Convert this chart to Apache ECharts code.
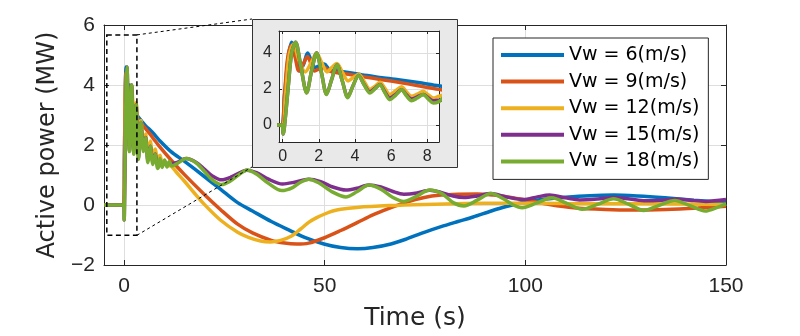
<!DOCTYPE html>
<html><head><meta charset="utf-8">
<script src="https://cdn.jsdelivr.net/npm/echarts@6/dist/echarts.min.js"></script>
<style>html,body{margin:0;padding:0;background:#fff}#c{width:800px;height:336px}</style>
</head><body><div id="c"></div>
<script>
const seriesNames = ['Vw = 6(m/s)', 'Vw = 9(m/s)', 'Vw = 12(m/s)', 'Vw = 15(m/s)', 'Vw = 18(m/s)'];
const seriesColors = ['#0072BD', '#D95319', '#EDB120', '#7E2F8E', '#77AC30'];

const xTicks = [0, 50, 100, 150];
const yTicks = [-2, 0, 2, 4, 6];
const insetXTicks = [0, 2, 4, 6, 8];
const insetYTicks = [0, 2, 4];

const time_vw6 = [-5, -0.1, 0.1, 0.3, 0.5, 0.72, 0.96, 1.17, 1.38, 1.58, 1.79, 2.05, 2.3, 2.6, 3.26, 4.37, 5.5, 6.5, 7.5, 8.65, 11.7, 15, 20, 25, 28.3, 32, 36.7, 41.5, 45, 49.8, 54, 58.2, 62, 66.5, 70, 74.8, 79, 83.2, 87, 91.5, 95, 100, 105, 110, 116, 122, 128, 134.8, 142, 150];
const power_vw6 = [0, 0, 1.6, 3.7, 4.6, 4.1, 3.0, 3.4, 4.0, 3.6, 3.2, 3.3, 3.39, 3.08, 2.98, 2.8, 2.62, 2.5, 2.36, 2.18, 1.78, 1.46, 0.95, 0.42, 0.08, -0.2, -0.55, -0.86, -1.08, -1.3, -1.42, -1.46, -1.42, -1.3, -1.15, -0.91, -0.72, -0.55, -0.4, -0.2, -0.06, 0.1, 0.2, 0.26, 0.31, 0.33, 0.3, 0.24, 0.16, 0.08];

const time_vw9 = [-5, -0.1, 0.1, 0.25, 0.45, 0.68, 0.9, 1.15, 1.38, 1.57, 1.75, 2.0, 2.3, 2.6, 3.26, 4.37, 5.5, 6.5, 7.5, 8.65, 11.7, 15, 20, 24, 28.3, 32, 36.7, 40, 43, 46, 49.8, 54, 58.2, 62, 66.5, 70, 74.8, 79, 83.2, 88, 92, 96, 100, 106, 112, 120, 126.5, 135, 143, 150];
const power_vw9 = [0, 0, 1.6, 3.5, 4.4, 3.8, 3.0, 3.4, 3.8, 3.4, 3.0, 3.1, 3.2, 3.0, 2.87, 2.7, 2.52, 2.36, 2.18, 1.98, 1.5, 1.02, 0.35, -0.15, -0.64, -0.93, -1.18, -1.27, -1.3, -1.27, -1.1, -0.85, -0.58, -0.33, -0.09, 0.08, 0.25, 0.33, 0.36, 0.37, 0.33, 0.26, 0.17, 0.02, -0.09, -0.15, -0.17, -0.15, -0.1, -0.04];

const time_vw12 = [-5, -0.05, 0.15, 0.35, 0.6, 0.9, 1.25, 1.6, 1.88, 2.15, 2.45, 2.72, 3.0, 3.3, 3.62, 3.92, 4.22, 4.52, 4.83, 5.1, 5.38, 5.65, 5.93, 6.25, 6.58, 6.85, 7.13, 7.45, 7.78, 8.05, 8.33, 8.65, 8.95, 9.5, 10.1, 10.7, 11.7, 13, 15, 17.5, 20, 24, 28.3, 31, 34, 36.5, 39, 41.5, 44, 46, 48, 50, 52, 54, 58, 66, 75, 85, 95, 110, 130, 150];
const power_vw12 = [0, 0, 1.5, 3.8, 4.5, 3.6, 2.95, 3.5, 4.0, 3.5, 2.95, 3.2, 3.42, 2.95, 2.45, 2.65, 2.82, 2.4, 1.98, 2.15, 2.37, 2.05, 1.7, 1.9, 2.13, 1.85, 1.6, 1.72, 1.87, 1.68, 1.5, 1.6, 1.66, 1.4, 1.47, 1.32, 1.3, 1.1, 0.8, 0.4, 0.02, -0.5, -0.91, -1.08, -1.2, -1.23, -1.18, -1.05, -0.8, -0.58, -0.42, -0.3, -0.2, -0.14, -0.08, -0.02, 0.02, 0.05, 0.06, 0.05, 0.04, 0.02];

const time_vw15 = [-5, -0.05, 0.03, 0.15, 0.3, 0.5, 0.72, 1.0, 1.33, 1.6, 1.88, 2.15, 2.43, 2.72, 3.0, 3.3, 3.6, 3.9, 4.2, 4.5, 4.83, 5.1, 5.38, 5.65, 5.93, 6.25, 6.58, 6.85, 7.13, 7.45, 7.78, 8.05, 8.33, 8.65, 9.5, 10.7, 11.9, 13.2, 15.5, 18, 20, 22, 24.3, 27, 30.6, 33, 36, 39.5, 42.5, 46, 49, 52, 55.3, 58, 61, 64, 67, 69.7, 73, 76.2, 79, 82, 84.7, 88, 91.4, 95, 99.5, 103, 106, 110, 113.5, 118, 122, 126, 130, 134, 137.5, 141, 145, 150];
const power_vw15 = [0, 0, -0.5, 0.4, 2.0, 4.0, 4.6, 3.3, 1.8, 3.0, 4.0, 2.9, 1.72, 2.55, 3.35, 2.45, 1.56, 2.2, 2.75, 2.27, 1.84, 2.03, 2.25, 1.85, 1.5, 1.7, 1.96, 1.68, 1.45, 1.56, 1.7, 1.52, 1.35, 1.38, 1.38, 1.38, 1.38, 1.42, 1.55, 1.42, 1.2, 0.97, 0.84, 0.95, 1.16, 1.08, 0.86, 0.7, 0.76, 0.86, 0.78, 0.6, 0.5, 0.56, 0.67, 0.6, 0.45, 0.36, 0.4, 0.49, 0.42, 0.3, 0.25, 0.3, 0.38, 0.28, 0.18, 0.27, 0.33, 0.24, 0.17, 0.2, 0.25, 0.2, 0.14, 0.16, 0.2, 0.16, 0.12, 0.18];

const time_vw18 = [-5, -0.05, 0.03, 0.15, 0.3, 0.5, 0.72, 1.0, 1.33, 1.6, 1.88, 2.15, 2.43, 2.72, 3.0, 3.3, 3.6, 3.9, 4.2, 4.5, 4.83, 5.1, 5.38, 5.65, 5.93, 6.25, 6.58, 6.85, 7.13, 7.45, 7.78, 8.05, 8.33, 8.65, 8.95, 9.5, 10.1, 10.7, 11.3, 11.9, 13.2, 15.5, 18, 20, 22, 24.3, 26.5, 28.5, 30.7, 33, 36, 39.3, 42, 44, 46, 48.5, 52, 55.3, 58, 61, 64, 67, 69.7, 72.7, 76.2, 79.3, 82, 84.7, 88, 91.4, 94.5, 97, 99.2, 102.7, 106.6, 110.2, 114.2, 118, 122, 125.7, 129.5, 133.2, 137.2, 141, 144.8, 148, 150];
const power_vw18 = [0, 0, -0.5, 0.4, 2.0, 4.0, 4.6, 3.3, 1.78, 3.0, 4.0, 2.9, 1.69, 2.55, 3.35, 2.45, 1.52, 2.2, 2.75, 2.25, 1.78, 2.0, 2.24, 1.8, 1.41, 1.65, 1.96, 1.62, 1.35, 1.5, 1.69, 1.45, 1.22, 1.3, 1.55, 1.25, 1.5, 1.27, 1.45, 1.3, 1.38, 1.55, 1.4, 1.12, 0.84, 0.68, 0.8, 1.0, 1.17, 1.03, 0.72, 0.48, 0.58, 0.76, 0.86, 0.74, 0.43, 0.27, 0.44, 0.67, 0.53, 0.25, 0.12, 0.28, 0.5, 0.37, 0.08, -0.03, 0.16, 0.38, 0.21, 0.0, -0.09, 0.06, 0.24, 0.06, -0.14, 0.02, 0.21, 0.03, -0.18, -0.02, 0.15, -0.02, -0.2, -0.07, 0.04];

// zoom window shown by the inset (data units)
const zoomBoxT = [-4.3, 3.2];
const zoomBoxP = [-1.01, 5.67];
const insetRangeT = [-0.2, 8.65];
const insetRangeP = [-0.94, 5.22];

const allTimes = [time_vw6, time_vw9, time_vw12, time_vw15, time_vw18];
const allPowers = [power_vw6, power_vw9, power_vw12, power_vw15, power_vw18];

const AX = '#262626';
const GRIDC = '#dedede';
const tickFont = 'Liberation Sans, Arial, sans-serif';
const fmtMinus = v => (v < 0 ? '\u2212' + Math.abs(v) : String(v));

function pairs(i) { return allTimes[i].map((t, k) => [t, allPowers[i][k]]); }

const MAIN = {left: 104, top: 25, width: 622, height: 243};
const INSET = {left: 279, top: 31, width: 160, height: 111};
const PANEL = {x: 252, y: 19, w: 205, h: 148};

const series = [];
for (let i = 0; i < 5; i++) {
  series.push({
    name: seriesNames[i], type: 'line', xAxisIndex: 0, yAxisIndex: 0,
    data: pairs(i), showSymbol: false, symbol: 'none', smooth: 0.3, clip: true,
    lineStyle: {width: 3.5, color: seriesColors[i]}, itemStyle: {color: seriesColors[i]},
    z: 2, silent: true
  });
}
for (let i = 0; i < 5; i++) {
  series.push({
    name: seriesNames[i], type: 'line', xAxisIndex: 2, yAxisIndex: 2,
    data: pairs(i), showSymbol: false, symbol: 'none', smooth: 0.3, clip: true,
    lineStyle: {width: 3.5, color: seriesColors[i]}, itemStyle: {color: seriesColors[i]},
    z: 13, silent: true
  });
}

function axisBase(extra) {
  return Object.assign({
    type: 'value',
    axisLine: {show: true, onZero: false, lineStyle: {color: AX, width: 1}},
    splitLine: {show: false},
  }, extra);
}

const option = {
  animation: false,
  backgroundColor: '#ffffff',
  grid: [
    Object.assign({containLabel: false}, MAIN),
    Object.assign({containLabel: false}, INSET)
  ],
  xAxis: [
    axisBase({gridIndex: 0, min: -5, max: 150, position: 'bottom',
      axisTick: {inside: true, length: 5, customValues: xTicks, lineStyle: {color: AX}},
      axisLabel: {customValues: xTicks, fontSize: 21, fontFamily: tickFont, color: AX, margin: 11, formatter: fmtMinus},
      splitLine: {show: true, lineStyle: {color: GRIDC, width: 1}},
      name: 'Time (s)', nameLocation: 'middle', nameGap: 41,
      nameTextStyle: {fontSize: 25, fontFamily: 'DejaVu Sans', color: AX}}),
    axisBase({gridIndex: 0, min: -5, max: 150, position: 'top',
      axisTick: {inside: true, length: 5, customValues: xTicks, lineStyle: {color: AX}},
      axisLabel: {show: false}}),
    axisBase({gridIndex: 1, min: insetRangeT[0], max: insetRangeT[1], position: 'bottom', z: 12,
      axisTick: {inside: true, length: 3, customValues: insetXTicks, lineStyle: {color: AX}},
      axisLabel: {customValues: insetXTicks, fontSize: 16, fontFamily: tickFont, color: AX, margin: 7},
      splitLine: {show: true, lineStyle: {color: GRIDC, width: 1}}}),
    axisBase({gridIndex: 1, min: insetRangeT[0], max: insetRangeT[1], position: 'top', z: 12,
      axisTick: {inside: true, length: 3, customValues: insetXTicks, lineStyle: {color: AX}},
      axisLabel: {show: false}})
  ],
  yAxis: [
    axisBase({gridIndex: 0, min: -2, max: 6, interval: 2, position: 'left',
      axisTick: {inside: true, length: 5, lineStyle: {color: AX}},
      axisLabel: {fontSize: 21, fontFamily: tickFont, color: AX, margin: 9, formatter: fmtMinus},
      splitLine: {show: true, lineStyle: {color: GRIDC, width: 1}},
      name: 'Active power (MW)', nameLocation: 'middle', nameGap: 43, nameRotate: 90,
      nameTextStyle: {fontSize: 24, fontFamily: 'DejaVu Sans', color: AX}}),
    axisBase({gridIndex: 0, min: -2, max: 6, interval: 2, position: 'right',
      axisTick: {inside: true, length: 5, lineStyle: {color: AX}},
      axisLabel: {show: false}}),
    axisBase({gridIndex: 1, min: insetRangeP[0], max: insetRangeP[1], position: 'left', z: 12,
      axisTick: {inside: true, length: 3, customValues: insetYTicks, lineStyle: {color: AX}},
      axisLabel: {customValues: insetYTicks, fontSize: 16, fontFamily: tickFont, color: AX, margin: 7},
      splitLine: {show: true, lineStyle: {color: GRIDC, width: 1}}}),
    axisBase({gridIndex: 1, min: insetRangeP[0], max: insetRangeP[1], position: 'right', z: 12,
      axisTick: {inside: true, length: 3, customValues: insetYTicks, lineStyle: {color: AX}},
      axisLabel: {show: false}})
  ],
  legend: {
    data: seriesNames, orient: 'vertical', left: 493, top: 38,
    padding: [7, 9, 8, 8], itemGap: 6.6, itemWidth: 63, itemHeight: 4, icon: 'rect',
    backgroundColor: '#ffffff', borderColor: AX, borderWidth: 1, borderRadius: 0,
    selectedMode: false, z: 6,
    textStyle: {fontFamily: 'DejaVu Sans', fontSize: 19, color: '#000', lineHeight: 20}
  },
  series: series
};

const chart = echarts.init(document.getElementById('c'), null, {renderer: 'canvas'});
chart.setOption(option);

const tl = chart.convertToPixel({gridIndex: 0}, [zoomBoxT[0], zoomBoxP[1]]);
const br = chart.convertToPixel({gridIndex: 0}, [zoomBoxT[1], zoomBoxP[0]]);
chart.setOption({
  graphic: {elements: [
    {type: 'rect', z: 5, silent: true,
      shape: {x: tl[0], y: tl[1], width: br[0] - tl[0], height: br[1] - tl[1]},
      style: {fill: 'none', stroke: '#000', lineWidth: 1.5, lineDash: [5, 3.5]}},
    {type: 'line', z: 5, silent: true,
      shape: {x1: br[0], y1: tl[1], x2: PANEL.x, y2: PANEL.y},
      style: {stroke: '#000', lineWidth: 1, lineDash: [3, 3]}},
    {type: 'line', z: 5, silent: true,
      shape: {x1: br[0], y1: br[1], x2: PANEL.x, y2: PANEL.y + PANEL.h},
      style: {stroke: '#000', lineWidth: 1, lineDash: [3, 3]}},
    {type: 'rect', z: 10, silent: true,
      shape: {x: PANEL.x + 0.5, y: PANEL.y + 0.5, width: PANEL.w, height: PANEL.h},
      style: {fill: '#e9e9e9', stroke: '#333', lineWidth: 1}},
    {type: 'rect', z: 11, silent: true,
      shape: {x: INSET.left, y: INSET.top, width: INSET.width, height: INSET.height},
      style: {fill: '#ffffff'}}
  ]}
});
</script></body></html>
